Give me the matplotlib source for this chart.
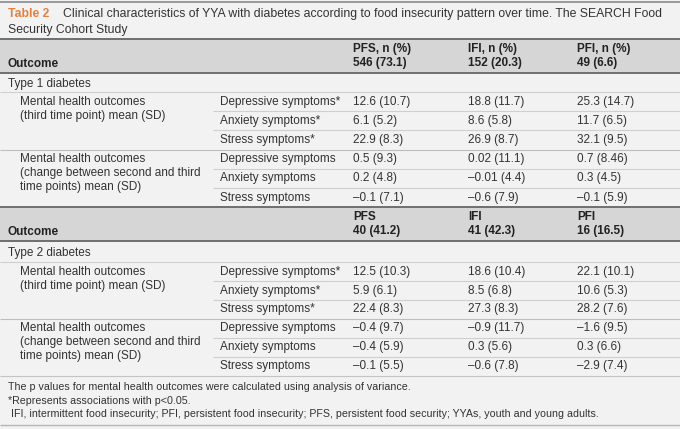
import matplotlib
matplotlib.use("Agg")
import matplotlib.pyplot as plt

plt.rcParams['font.family'] = ['Liberation Sans', 'DejaVu Sans']

# ---- table content ----
title_tag = "Table 2"
title_line1 = "Clinical characteristics of YYA with diabetes according to food insecurity pattern over time. The SEARCH Food"
title_line2 = "Security Cohort Study"

header_t1 = ["PFS, n (%)\n546 (73.1)", "IFI, n (%)\n152 (20.3)", "PFI, n (%)\n49 (6.6)"]
header_t2 = ["PFS\n40 (41.2)", "IFI\n41 (42.3)", "PFI\n16 (16.5)"]

group_third = "Mental health outcomes\n(third time point) mean (SD)"
group_change = "Mental health outcomes\n(change between second and third\ntime points) mean (SD)"
symptoms = ["Depressive symptoms", "Anxiety symptoms", "Stress symptoms"]

t1_third = [["12.6 (10.7)", "18.8 (11.7)", "25.3 (14.7)"],
            ["6.1 (5.2)", "8.6 (5.8)", "11.7 (6.5)"],
            ["22.9 (8.3)", "26.9 (8.7)", "32.1 (9.5)"]]
t1_change = [["0.5 (9.3)", "0.02 (11.1)", "0.7 (8.46)"],
             ["0.2 (4.8)", "\u20130.01 (4.4)", "0.3 (4.5)"],
             ["\u20130.1 (7.1)", "\u20130.6 (7.9)", "\u20130.1 (5.9)"]]
t2_third = [["12.5 (10.3)", "18.6 (10.4)", "22.1 (10.1)"],
            ["5.9 (6.1)", "8.5 (6.8)", "10.6 (5.3)"],
            ["22.4 (8.3)", "27.3 (8.3)", "28.2 (7.6)"]]
t2_change = [["\u20130.4 (9.7)", "\u20130.9 (11.7)", "\u20131.6 (9.5)"],
             ["\u20130.4 (5.9)", "0.3 (5.6)", "0.3 (6.6)"],
             ["\u20130.1 (5.5)", "\u20130.6 (7.8)", "\u20132.9 (7.4)"]]
starred_third = [True, True, True]
starred_change = [False, False, False]

footnotes = ["The p values for mental health outcomes were calculated using analysis of variance.",
             "*Represents associations with p<0.05.",
             " IFI, intermittent food insecurity; PFI, persistent food insecurity; PFS, persistent food security; YYAs, youth and young adults."]

# ---- style ----
W, H = 680, 429
BG = "#f2f2f2"
HDR = "#d6d6d6"
TXT = "#333333"
DARK = "#6f6f6f"
LIGHT = "#cfcfcf"
ORANGE = "#e5803e"
FS = 8.5
FS_TITLE = 8.85
FS_NOTE = 7.7

X_OUT, X_GRP, X_SYM = 8, 20, 220
X_COLS = [353, 468, 577]
X_INNER = 213
ROW_H = 19.2

fig = plt.figure(figsize=(W / 100, H / 100), dpi=100, facecolor=BG)
ax = fig.add_axes([0, 0, 1, 1])
ax.set_xlim(0, W)
ax.set_ylim(H, 0)
ax.axis("off")
ax.set_facecolor(BG)


def hline(y, x0=0, color=LIGHT, lw=0.8):
    ax.plot([x0, W], [y, y], color=color, lw=lw, solid_capstyle="butt")


def text(x, y, s, **kw):
    kw.setdefault("fontsize", FS)
    kw.setdefault("color", TXT)
    kw.setdefault("va", "center")
    ax.text(x, y, s, **kw)


# title
hline(2, color="#8a8a8a", lw=1.2)
text(X_OUT, 14, title_tag, color=ORANGE, fontweight="bold", fontsize=FS_TITLE)
text(63, 14, title_line1, fontsize=FS_TITLE)
text(X_OUT, 30, title_line2, fontsize=FS_TITLE)


def header(top, bottom, labels):
    ax.fill_between([0, W], top, bottom, color=HDR, lw=0)
    hline(top, color=DARK, lw=1.4)
    hline(bottom, color=DARK, lw=1.4)
    text(X_OUT, bottom - 9, "Outcome", fontweight="bold", color="#222222")
    for x, lab in zip(X_COLS, labels):
        text(x, (top + bottom) / 2, lab, fontweight="bold", color="#222222",
             linespacing=1.26)


def block(start, groups, diabetes_label, label_y, rh):
    text(X_OUT, label_y, diabetes_label)
    hline(start)
    y = start
    for gname, values, stars in groups:
        text(X_GRP, y + rh / 2 - 6, gname, va="top", linespacing=1.22)
        for i, sym in enumerate(symptoms):
            cy = y + rh / 2
            text(X_SYM, cy, sym + ("*" if stars[i] else ""))
            for x, v in zip(X_COLS, values[i]):
                text(x, cy, v)
            y += rh
            if i < len(symptoms) - 1:
                hline(y, x0=X_INNER)
        if gname is not groups[-1][0]:
            hline(y, color="#bdbdbd")
    return y


header(39, 73, header_t1)
end1 = block(92, [(group_third, t1_third, starred_third),
                  (group_change, t1_change, starred_change)],
             "Type 1 diabetes", 84, ROW_H)

header(end1, end1 + 34, header_t2)
end2 = block(end1 + 55, [(group_third, t2_third, starred_third),
                         (group_change, t2_change, starred_change)],
             "Type 2 diabetes", end1 + 46, 18.9)
hline(end2, color="#c4c4c4")

for i, note in enumerate(footnotes):
    text(X_OUT, 387 + i * 13.6, note, fontsize=FS_NOTE)
hline(425, color="#b5b5b5", lw=1.0)

fig.savefig("out.png", dpi=100, facecolor=BG)
